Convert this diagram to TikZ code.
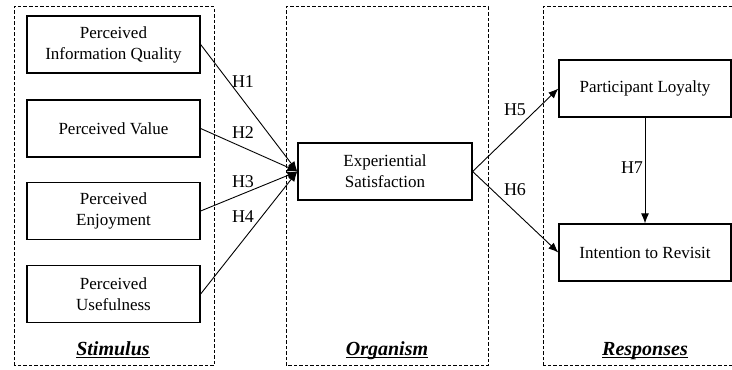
\documentclass[tikz,border=0pt]{standalone}
\usepackage{fontspec}
\setmainfont{Liberation Serif}
\usetikzlibrary{arrows.meta}
\newcommand{\paneltext}[1]{\underline{\smash{#1}}}
\tikzset{
  concept/.style={draw, line width=1.3pt, minimum width=173pt, minimum height=57pt,
    align=center, inner sep=2pt, font=\fontsize{17}{21}\selectfont},
  panel/.style={draw, line width=1pt, dash pattern=on 3.5pt off 2pt},
  hyp/.style={font=\fontsize{18}{20}\selectfont},
  paneltitle/.style={anchor=base, font=\fontsize{20}{22}\selectfont\bfseries\itshape},
  link/.style={line width=0.9pt, -{Latex[length=10pt,width=8pt]}}
}
\begin{document}
\begin{tikzpicture}[x=1pt,y=1pt]
\useasboundingbox (0,0) rectangle (732,370);
% the three panels
\draw[panel] (14,4) rectangle (214,363);
\draw[panel] (286,4) rectangle (488,363);
\draw[panel] (543,4) rectangle (760,363);
\node[paneltitle] (stim) at (113,14) {\paneltext{Stimulus}};
\node[paneltitle] (org) at (387,14) {\paneltext{Organism}};
\node[paneltitle] (resp) at (645,14) {\paneltext{Responses}};
% constructs
\node[concept] (piq) at (113.5,325.5) {Perceived\\Information Quality};
\node[concept] (pv) at (113.5,241.5) {Perceived Value};
\node[concept] (pe) at (113.5,159) {Perceived\\Enjoyment};
\node[concept] (pu) at (113.5,76) {Perceived\\Usefulness};
\node[concept, minimum width=174pt] (es) at (385,198.5) {Experiential\\Satisfaction};
\node[concept, minimum width=172pt] (pl) at (645,281.5) {Participant Loyalty};
\node[concept, minimum width=172pt] (ir) at (645,117.5) {Intention to Revisit};
% paths
\draw[link] (piq.east) -- (es.west);
\draw[link] (pv.east) -- (es.west);
\draw[link] (pe.east) -- (es.west);
\draw[link] (pu.east) -- (es.west);
\draw[link] (es.east) -- (pl.west);
\draw[link] (es.east) -- (ir.west);
\draw[link] (pl.south) -- (ir.north);
\node[hyp] (h1) at (243,288) {H1};
\node[hyp] (h2) at (243,237) {H2};
\node[hyp] (h3) at (243,188) {H3};
\node[hyp] (h4) at (243,153) {H4};
\node[hyp] (h5) at (515,260) {H5};
\node[hyp] (h6) at (515,180) {H6};
\node[hyp] (h7) at (632,202) {H7};
\end{tikzpicture}
\end{document}
